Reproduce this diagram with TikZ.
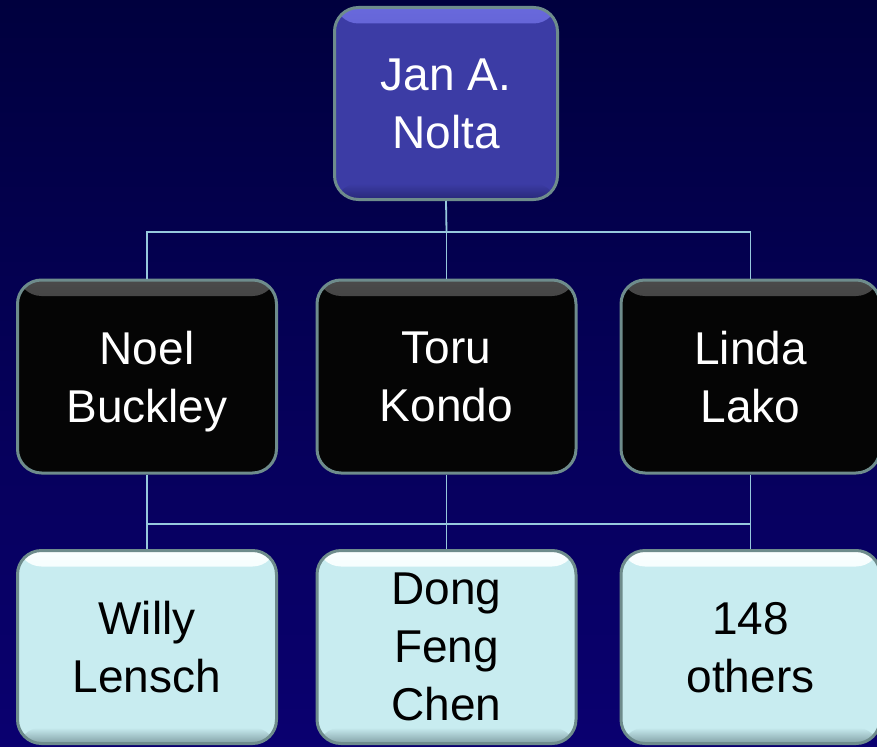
\documentclass[tikz,border=0pt]{standalone}
\usepackage{fontspec}
\setmainfont{Liberation Sans}
\definecolor{bgtop}{RGB}{0,0,62}
\definecolor{bgbot}{RGB}{10,0,112}
\definecolor{bord}{RGB}{110,140,140}
\definecolor{conncol}{RGB}{150,200,220}
\definecolor{topfill}{RGB}{60,60,165}
\definecolor{tophl}{RGB}{105,105,220}
\definecolor{topdk}{RGB}{40,40,120}
\definecolor{blkfill}{RGB}{5,5,5}
\definecolor{blkhl}{RGB}{75,75,75}
\definecolor{litfill}{RGB}{200,236,240}
\definecolor{lithl}{RGB}{250,255,255}
\definecolor{litdk}{RGB}{130,160,165}
\tikzset{
  box/.style={rounded corners=24pt, draw=bord, line width=3pt,
    minimum width=259pt, minimum height=193pt, align=center,
    text depth=0pt, inner sep=0pt, font=\fontsize{46}{58}\selectfont},
  bevel/.style n args={3}{fill=#1, path picture={
      \shade[top color=#2, bottom color=#1]
        (path picture bounding box.north west) rectangle ([yshift=-16pt]path picture bounding box.north east);
      \shade[top color=#1, bottom color=#3]
        ([yshift=16pt]path picture bounding box.south west) rectangle (path picture bounding box.south east);}},
  bosslvl/.style={box, bevel={topfill}{tophl}{topdk}, text=white},
  midlvl/.style={box, bevel={blkfill}{blkhl}{blkfill}, text=white},
  lowlvl/.style={box, bevel={litfill}{lithl}{litdk}, text=black},
  conn/.style={draw=conncol, line width=1.8pt}
}
\begin{document}
\begin{tikzpicture}[x=1pt,y=-1pt]
\useasboundingbox (0,0) rectangle (877,746);
\shade[top color=bgtop, bottom color=bgbot] (0,0) rectangle (877,746);

\coordinate (b1) at (446.5,232);
\coordinate (b2) at (446.5,524);

\node[bosslvl, minimum width=223pt, minimum height=192pt] (top) at (446,103.5) {Jan A.\\Nolta};

\node[midlvl] (noel)  at (147,376.5)   {Noel\\Buckley};
\node[midlvl] (toru)  at (446.5,376.5) {Toru\\Kondo};
\node[midlvl] (linda) at (750.5,376.5) {Linda\\Lako};

\node[lowlvl] (willy)  at (147,647)   {Willy\\Lensch};
\node[lowlvl] (dong)   at (446.5,647) {Dong\\Feng\\Chen};
\node[lowlvl] (others) at (750.5,647) {148\\others};

\draw[conn] (top.south) -- (b1);
\draw[conn] (noel.north) |- (b1) -| (linda.north);
\draw[conn] (b1) -- (toru.north);
\draw[conn] (noel.south) -- (willy.north);
\draw[conn] (willy.north) |- (b2) -| (others.north);
\draw[conn] (toru.south) -- (dong.north);
\draw[conn] (linda.south) -- (others.north);
\end{tikzpicture}
\end{document}
